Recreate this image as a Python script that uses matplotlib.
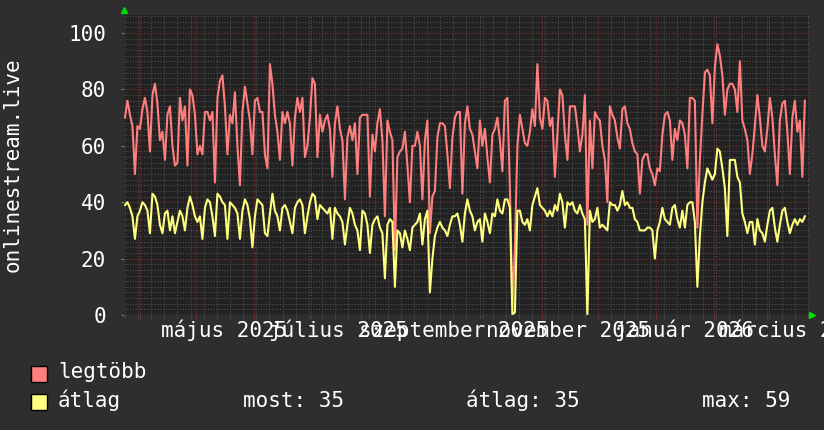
import matplotlib
matplotlib.use("Agg")
import matplotlib.pyplot as plt
import matplotlib.dates as mdates
from matplotlib.ticker import MultipleLocator, NullFormatter
from matplotlib.patches import Rectangle
import pandas as pd

# values, roughly every 1.3 days
legtobb = [70, 76, 71, 67, 50, 67, 66, 73, 77, 72, 58, 78, 82, 75, 62, 65, 55, 71, 74, 60,
           53, 54, 77, 69, 74, 53, 80, 78, 71, 57, 60, 57, 72, 72, 69, 72, 47, 77, 83, 85,
           74, 57, 71, 68, 79, 60, 46, 72, 81, 75, 69, 57, 76, 77,
           72, 72, 57, 52, 89, 82, 71, 65, 55, 72, 68, 72, 68, 53, 70, 77, 72, 77, 56, 60,
           70, 84, 82, 56, 71, 65, 69, 71, 66, 49, 68, 74, 66, 62, 41, 63, 67, 62, 68, 50,
           70, 71, 71, 71, 42, 64, 58, 68, 73, 62, 35, 69, 65, 62,
           23, 56, 58, 59, 65, 53, 40, 60, 60, 65, 60, 41, 62, 69, 29, 42, 44, 63, 68, 68,
           67, 57, 45, 63, 70, 72, 72, 43, 68, 74, 66, 64, 58, 52, 69, 60, 66, 56, 47, 64,
           66, 70, 62, 51, 76, 77, 45, 3, 24, 60, 71, 66, 61, 60,
           65, 73, 67, 89, 70, 66, 77, 76, 67, 70, 49, 64, 80, 78, 64, 55, 74, 74, 74, 67,
           58, 64, 78, 32, 69, 52, 72, 70, 69, 60, 55, 40, 74, 71, 69, 63, 59, 73, 74, 68,
           66, 61, 58, 57, 43, 55, 57, 57, 52, 50, 46, 52, 51, 64,
           71, 72, 69, 55, 66, 62, 69, 68, 64, 52, 77, 77, 76, 31, 55, 71, 86, 87, 85, 68,
           88, 96, 92, 85, 71, 80, 82, 82, 80, 72, 90, 69, 66, 62, 50, 57, 67, 78, 70, 60,
           58, 66, 77, 70, 57, 46, 69, 75, 76, 65, 50, 70, 76, 65, 69, 49, 76]

atlag = [39, 40, 38, 35, 27, 35, 37, 40, 39, 37, 29, 43, 42, 39, 32, 29, 36, 37, 30, 35,
         29, 33, 37, 35, 30, 38, 42, 39, 35, 33, 35, 27, 38, 41, 40, 35, 28, 43, 42, 40,
         39, 27, 40, 39, 38, 36, 27, 37, 41, 39, 34, 24, 35, 41,
         40, 39, 29, 28, 36, 43, 37, 35, 30, 38, 39, 37, 33, 29, 38, 40, 41, 39, 29, 35,
         40, 43, 42, 34, 39, 38, 37, 36, 38, 27, 38, 36, 35, 33, 25, 32, 38, 36, 32, 30,
         23, 37, 36, 32, 22, 32, 34, 35, 31, 29, 13, 32, 34, 33,
         10, 30, 29, 24, 30, 27, 23, 31, 32, 33, 36, 25, 34, 37, 8, 20, 28, 31, 33, 31,
         30, 28, 32, 35, 35, 36, 32, 26, 36, 41, 37, 35, 30, 33, 34, 26, 36, 33, 29, 36,
         35, 41, 37, 36, 41, 41, 38, 0, 1, 37, 37, 33, 32, 34,
         30, 39, 42, 45, 39, 38, 37, 35, 37, 35, 39, 37, 43, 40, 31, 40, 39, 40, 37, 36,
         39, 36, 34, 0, 37, 33, 34, 38, 31, 32, 31, 30, 40, 39, 39, 37, 39, 44, 39, 40,
         38, 38, 34, 33, 30, 30, 30, 31, 31, 30, 20, 30, 33, 38,
         34, 33, 32, 38, 39, 34, 31, 37, 31, 39, 40, 40, 33, 10, 28, 40, 47, 52, 50, 48,
         50, 59, 58, 52, 45, 28, 55, 55, 55, 49, 47, 36, 33, 29, 33, 33, 25, 34, 30, 29,
         26, 32, 37, 38, 31, 26, 32, 37, 38, 33, 29, 32, 34, 32, 34, 33, 35]

first_sample = "2025-03-24 00:00"
last_sample = "2026-03-21 07:00"
view_start = "2025-03-23 12:00"
view_end = "2026-03-23 12:00"

month_labels = ["május 2025", "július 2025", "szeptember 2025",
                "november 2025", "január 2026", "március 2026"]
label_dates = ["2025-05-16", "2025-07-16", "2025-09-15",
               "2025-11-15", "2026-01-16", "2026-03-16"]

series_names = ["legtöbb", "átlag"]
stats = ["most: 35", "átlag: 35", "max: 59"]

BACK = "#2e2e2e"
CANVAS = "#222222"
MINOR = "#4e4e4e"
MAJOR = "#7e2e2e"
RED = "#ff7f7f"
YELLOW = "#ffff7f"
FONT = "DejaVu Sans Mono"
FS = 15

plt.rcParams["font.family"] = FONT

W, H = 824, 430
fig = plt.figure(figsize=(W / 100, H / 100), dpi=100, facecolor=BACK)
ax = fig.add_axes([124 / W, 115 / H, 685 / W, 300 / H])
ax.set_facecolor(CANVAS)

dates = pd.date_range(first_sample, last_sample, periods=len(legtobb))
ax.plot(dates, legtobb, color=RED, lw=1.5, zorder=3)
ax.plot(dates, atlag, color=YELLOW, lw=1.5, zorder=4)

ax.set_xlim(pd.Timestamp(view_start), pd.Timestamp(view_end))
ax.set_ylim(0, 106.4)

ax.xaxis.set_major_locator(mdates.MonthLocator())
ax.xaxis.set_minor_locator(mdates.WeekdayLocator(byweekday=mdates.MO))
ax.xaxis.set_major_formatter(NullFormatter())
ax.yaxis.set_major_locator(MultipleLocator(20))
ax.yaxis.set_minor_locator(MultipleLocator(2))

ax.grid(which="minor", color=MINOR, lw=0.8, ls=(0, (1, 1.5)), zorder=1)
ax.grid(which="major", color=MAJOR, lw=0.8, ls=(0, (1, 1.5)), zorder=2)

ax.tick_params(axis="y", which="major", length=2, color="#777777",
               labelsize=FS, labelcolor="white", pad=11)
ax.tick_params(axis="y", which="minor", length=0)
ax.tick_params(axis="x", which="major", length=3, color=MAJOR, labelbottom=False)
ax.tick_params(axis="x", which="minor", length=2, color=MINOR)
for s in ax.spines.values():
    s.set_visible(False)
ax.axhline(0, color="#555555", lw=1, zorder=5)

# arrows at the axis ends
ax.plot([0], [1.017], marker="^", ms=5, color="#00dd00", transform=ax.transAxes,
        clip_on=False, zorder=6)
ax.plot([1.005], [0], marker=">", ms=5, color="#00dd00", transform=ax.transAxes,
        clip_on=False, zorder=6)

for d, lab in zip(label_dates, month_labels):
    ax.text(pd.Timestamp(d), -22 / 300, lab, transform=ax.get_xaxis_transform(),
            ha="center", va="baseline", color="white", fontsize=FS, clip_on=False)

fig.text(13 / W, 1 - 165 / H, "onlinestream.live", rotation=90, ha="center",
         va="center", color="white", fontsize=FS)

# legend
for i, (name, col) in enumerate(zip(series_names, [RED, YELLOW])):
    y = 366 + i * 28
    fig.patches.append(Rectangle((31 / W, 1 - (y + 16) / H), 16 / W, 16 / H,
                                 transform=fig.transFigure, facecolor=col,
                                 edgecolor="black", lw=1))
    fig.text(58 / W, 1 - (378 + i * 29) / H, name, color="white", fontsize=FS,
             va="baseline")

for xpos, s in zip([243, 466, 702], stats):
    fig.text(xpos / W, 1 - 407 / H, s, color="white", fontsize=FS, va="baseline")

fig.savefig("out.png", dpi=100, facecolor=BACK)
